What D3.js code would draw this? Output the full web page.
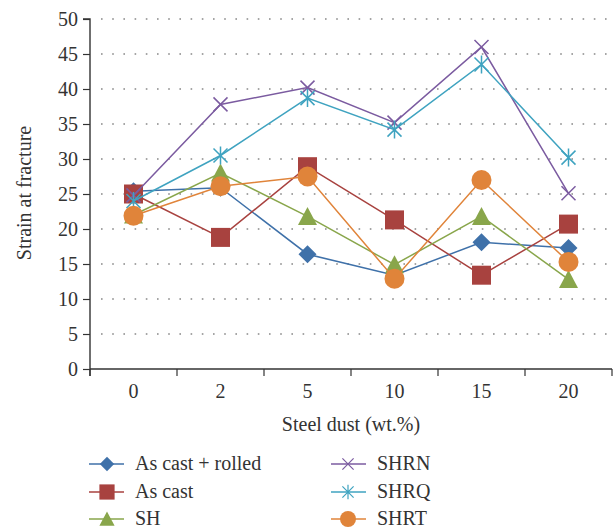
<!DOCTYPE html>
<html>
<head>
<meta charset="utf-8">
<script src="https://cdn.jsdelivr.net/npm/d3@7"></script>
<style>
  body { margin: 0; background: #fff; }
</style>
</head>
<body>
<svg id="chart" width="616" height="529"></svg>
<script>
const categories = ["0", "2", "5", "10", "15", "20"];
const yTicks = [0, 5, 10, 15, 20, 25, 30, 35, 40, 45, 50];
const seriesNames = ["As cast + rolled", "As cast", "SH", "SHRN", "SHRQ", "SHRT"];
const asCastRolled = [25.4, 25.9, 16.4, 13.4, 18.1, 17.3];
const asCast = [25.0, 18.8, 28.9, 21.3, 13.4, 20.7];
const sh = [22.0, 28.0, 21.8, 14.9, 21.8, 12.8];
const shrn = [24.8, 37.8, 40.2, 35.2, 46.0, 25.1];
const shrq = [24.0, 30.5, 38.7, 34.2, 43.5, 30.2];
const shrt = [21.9, 26.1, 27.5, 12.9, 27.0, 15.3];

const seriesValues = [asCastRolled, asCast, sh, shrn, shrq, shrt];
const colors = ["#3f71a9", "#a8423f", "#89a64b", "#7b5ba0", "#3fa3c0", "#e0843a"];
const markers = ["diamond", "square", "triangle", "x", "asterisk", "circle"];

const FONT = '"Liberation Serif", "Times New Roman", serif';
const FS = 20;
const TXT = "#333";

const svg = d3.select("#chart");
const pLeft = 90, pRight = 612, pTop = 19, pBottom = 369;

const x = d3.scaleBand().domain(categories).range([pLeft, pRight]);
const y = d3.scaleLinear().domain([0, 50]).range([pBottom, pTop]);

// gridlines
svg.append("g").selectAll("line").data(yTicks.filter(d => d > 0)).join("line")
  .attr("x1", pLeft + 11).attr("x2", pRight)
  .attr("y1", d => y(d)).attr("y2", d => y(d))
  .attr("stroke", "#888").attr("stroke-width", 1.6)
  .attr("stroke-dasharray", "1.6,9.6");

// y axis
const yAxis = d3.axisLeft(y).tickValues(yTicks).tickSize(7).tickPadding(5);
const gy = svg.append("g").attr("transform", `translate(${pLeft},0)`).call(yAxis);
gy.select(".domain").attr("stroke", "#333").attr("stroke-width", 1.4).attr("d", `M-7,${pTop}H0V${pBottom + 7}`);
gy.selectAll(".tick line").attr("stroke", "#333").attr("stroke-width", 1.2);
gy.selectAll(".tick text").style("font-size", FS + "px").style("fill", TXT).style("font-family", FONT);

// x axis
const xAxis = d3.axisBottom(x).tickSize(0).tickPadding(15);
const gx = svg.append("g").attr("transform", `translate(0,${pBottom})`).call(xAxis);
gx.select(".domain").attr("stroke", "#333").attr("stroke-width", 1.4).attr("d", `M${pLeft},0H${pRight}`);
gx.selectAll(".tick text").style("font-size", FS + "px").style("fill", TXT).style("font-family", FONT);
// boundary ticks
const bounds = categories.map(c => x(c)).concat([pRight]);
gx.append("g").selectAll("line").data(bounds).join("line")
  .attr("x1", d => d).attr("x2", d => d).attr("y1", 0).attr("y2", 7)
  .attr("stroke", "#333").attr("stroke-width", 1.2);

// axis titles
svg.append("text").attr("x", 351).attr("y", 431).attr("text-anchor", "middle")
  .style("font-size", FS + "px").style("fill", TXT).style("font-family", FONT).text("Steel dust (wt.%)");
svg.append("text").attr("transform", "translate(31,193) rotate(-90)").attr("text-anchor", "middle")
  .style("font-size", FS + "px").style("fill", TXT).style("font-family", FONT).text("Strain at fracture");

function drawMarker(g, type, color) {
  if (type === "diamond") {
    g.append("path").attr("d", "M0,-9L9,0L0,9L-9,0Z").attr("fill", color);
  } else if (type === "square") {
    g.append("rect").attr("x", -9.5).attr("y", -9.5).attr("width", 19).attr("height", 19).attr("fill", color);
  } else if (type === "triangle") {
    g.append("path").attr("d", "M0,-9.5L9.5,8.5L-9.5,8.5Z").attr("fill", color);
  } else if (type === "circle") {
    g.append("circle").attr("r", 10).attr("fill", color);
  } else if (type === "x") {
    g.append("path").attr("d", "M-7,-7L7,7M-7,7L7,-7").attr("stroke", color).attr("stroke-width", 1.5).attr("fill", "none");
  } else if (type === "asterisk") {
    g.append("path").attr("d", "M-7,-7L7,7M-7,7L7,-7M0,-9V9").attr("stroke", color).attr("stroke-width", 1.5).attr("fill", "none");
  }
}

const line = d3.line().x((d, i) => x(categories[i]) + x.bandwidth() / 2).y(d => y(d));

seriesValues.forEach((vals, si) => {
  const g = svg.append("g");
  g.append("path").datum(vals).attr("d", line).attr("fill", "none")
    .attr("stroke", colors[si]).attr("stroke-width", 1.5);
  vals.forEach((v, i) => {
    const m = g.append("g").attr("transform", `translate(${x(categories[i]) + x.bandwidth() / 2},${y(v)})`);
    drawMarker(m, markers[si], colors[si]);
  });
});

// legend
const legendCols = [{lx: 89, mx: 107, tx: 135}, {lx: 331, mx: 348, tx: 377}];
const rowsY = [464, 492, 519];
seriesNames.forEach((name, i) => {
  const col = legendCols[Math.floor(i / 3)];
  const ry = rowsY[i % 3];
  const g = svg.append("g");
  g.append("line").attr("x1", col.lx).attr("x2", col.lx + 35).attr("y1", ry).attr("y2", ry)
    .attr("stroke", colors[i]).attr("stroke-width", 1.5);
  const m = g.append("g").attr("transform", `translate(${col.mx},${ry}) scale(0.8)`);
  drawMarker(m, markers[i], colors[i]);
  g.append("text").attr("x", col.tx).attr("y", ry).attr("dy", "0.32em")
    .style("font-size", FS + "px").style("fill", TXT).style("font-family", FONT).text(name);
});
</script>
</body>
</html>
